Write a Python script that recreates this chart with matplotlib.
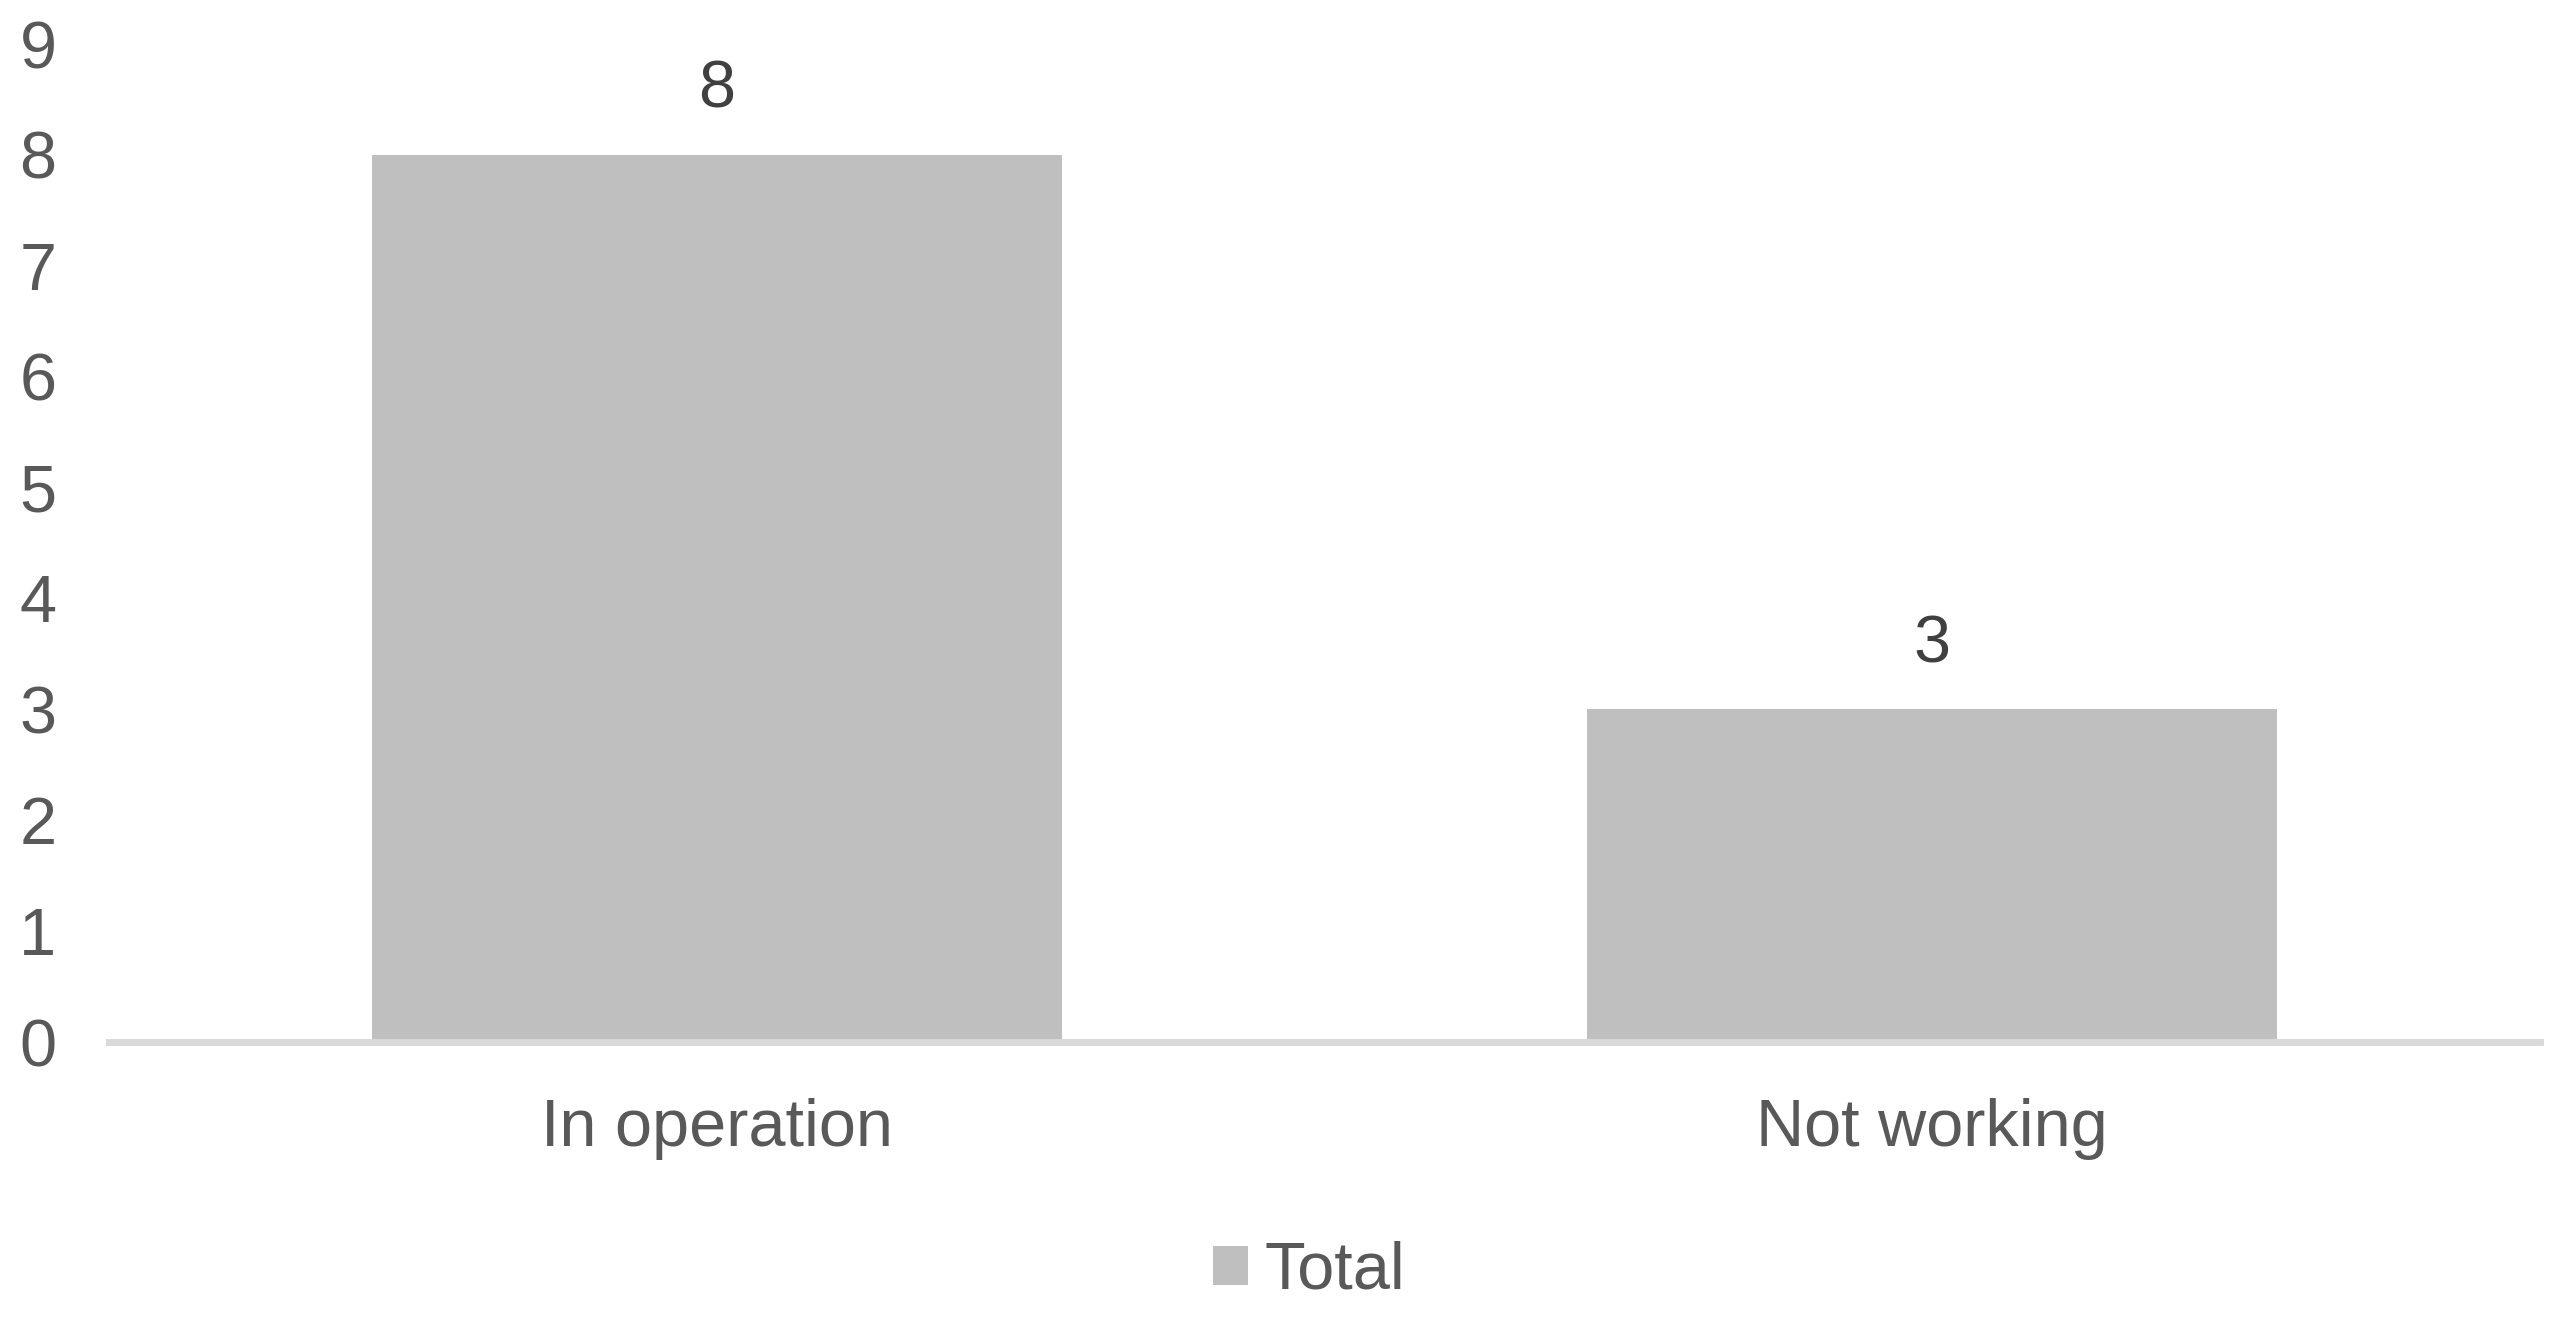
import matplotlib.pyplot as plt

plt.rcParams['font.family'] = ['Liberation Sans', 'DejaVu Sans']

# data
categories = ['In operation', 'Not working']
totals = [8, 3]
y_ticks = list(range(0, 10))

fig = plt.figure(figsize=(25.69, 13.18), dpi=100)
ax = fig.add_axes([0.0425, 0.2094, 0.9462, 0.7572])

x = range(len(categories))
bars = ax.bar(x, totals, width=0.568, color='#BFBFBF', label='Total', zorder=2)
ax.bar_label(bars, labels=[str(v) for v in totals], padding=24,
             fontsize=48, color='#404040')

ax.set_xlim(-0.5, 1.5)
ax.set_ylim(0, 9)
ax.set_xticks(list(x))
ax.set_xticklabels(categories)
ax.set_yticks(y_ticks)
ax.tick_params(axis='both', length=0, labelsize=48, colors='#595959')
ax.tick_params(axis='x', pad=40)
ax.tick_params(axis='y', pad=38)

for side in ['top', 'right', 'left']:
    ax.spines[side].set_visible(False)
ax.spines['bottom'].set_color('#D9D9D9')
ax.spines['bottom'].set_linewidth(5)

fig.legend(loc='center', bbox_to_anchor=(0.5095, 0.035), frameon=False,
           fontsize=48, labelcolor='#595959', handlelength=0.52, handleheight=0.52,
           handletextpad=0.25)

fig.savefig('out.png', dpi=100)
